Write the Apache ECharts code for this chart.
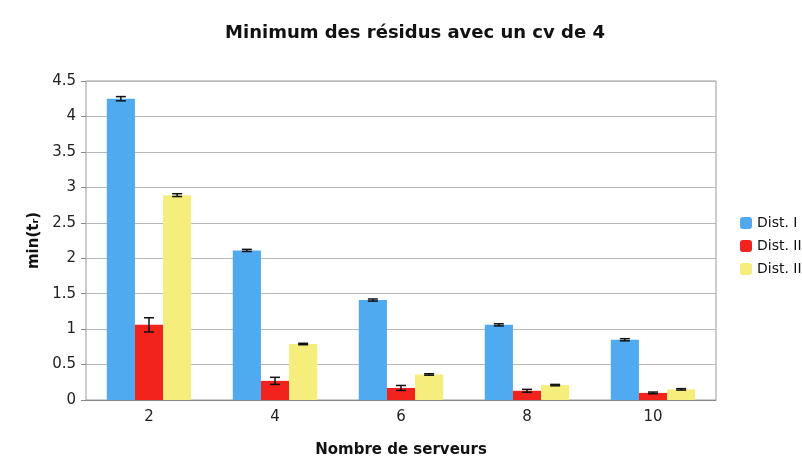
<!DOCTYPE html>
<html>
<head>
<meta charset="utf-8">
<script src="https://cdn.jsdelivr.net/npm/echarts@6/dist/echarts.min.js"></script>
<style>
  html, body { margin: 0; padding: 0; background: #fff; }
  #chart { width: 802px; height: 459px; }
</style>
</head>
<body>
<div id="chart"></div>
<script>
const categories = ['2', '4', '6', '8', '10'];
const seriesNames = ['Dist. I', 'Dist. II', 'Dist. III'];
const distI = [4.25, 2.11, 1.41, 1.06, 0.85];
const distII = [1.06, 0.27, 0.17, 0.13, 0.10];
const distIII = [2.89, 0.79, 0.36, 0.21, 0.15];
const errI = [0.03, 0.015, 0.015, 0.015, 0.015];
const errII = [0.10, 0.05, 0.035, 0.02, 0.012];
const errIII = [0.02, 0.01, 0.01, 0.01, 0.01];

const colors = ['#4faaf0', '#f2221d', '#f6ee7c'];
const values = [distI, distII, distIII];
const errors = [errI, errII, errIII];
const gapRatio = 0.33;

const chart = echarts.init(document.getElementById('chart'));

const errorSeries = (idx) => ({
  type: 'custom',
  z: 10,
  silent: true,
  data: values[idx].map((v, i) => [i, v - errors[idx][i], v + errors[idx][i]]),
  renderItem: (params, api) => {
    const band = api.size([1, 0])[0];
    const group = band * (1 - gapRatio);
    const bw = group / 3;
    const off = -group / 2 + bw * (idx + 0.5);
    const lo = api.coord([api.value(0), api.value(1)]);
    const hi = api.coord([api.value(0), api.value(2)]);
    const x = lo[0] + off;
    const cap = 5;
    const style = { stroke: '#111', lineWidth: 1.5 };
    return {
      type: 'group',
      children: [
        { type: 'line', shape: { x1: x, y1: lo[1], x2: x, y2: hi[1] }, style },
        { type: 'line', shape: { x1: x - cap, y1: lo[1], x2: x + cap, y2: lo[1] }, style },
        { type: 'line', shape: { x1: x - cap, y1: hi[1], x2: x + cap, y2: hi[1] }, style }
      ]
    };
  }
});

const option = {
  backgroundColor: '#fff',
  textStyle: { fontFamily: 'DejaVu Sans' },
  title: {
    text: 'Minimum des résidus avec un cv de 4',
    left: 410,
    textAlign: 'center',
    top: 19,
    textStyle: { fontSize: 18, fontWeight: 'bold', color: '#111' }
  },
  legend: {
    orient: 'vertical',
    left: 735,
    top: 211,
    itemWidth: 12,
    itemHeight: 12,
    itemGap: 9,
    data: seriesNames,
    textStyle: { fontSize: 14, color: '#111' }
  },
  grid: {
    left: 86,
    right: 86,
    top: 81,
    bottom: 59,
    outerBoundsMode: 'none',
    containLabel: false,
    show: true,
    borderColor: '#9a9a9a',
    borderWidth: 1
  },
  xAxis: {
    type: 'category',
    data: categories,
    name: 'Nombre de serveurs',
    nameLocation: 'middle',
    nameGap: 43,
    nameTextStyle: { fontSize: 15, fontWeight: 'bold', color: '#111' },
    axisTick: { show: false },
    axisLine: { lineStyle: { color: '#888' } },
    axisLabel: { fontSize: 15, color: '#222', margin: 10 }
  },
  yAxis: {
    type: 'value',
    min: 0,
    max: 4.5,
    interval: 0.5,
    name: 'min(tᵣ)',
    nameLocation: 'middle',
    nameGap: 44,
    nameTextStyle: { fontSize: 15, fontWeight: 'bold', color: '#111' },
    axisLine: { show: false },
    axisTick: { show: true, length: 5, lineStyle: { color: '#888' } },
    axisLabel: { fontSize: 15, color: '#222', margin: 10 },
    splitLine: { lineStyle: { color: '#b8b8b8' } }
  },
  series: [
    ...seriesNames.map((name, idx) => ({
      name,
      type: 'bar',
      data: values[idx],
      barGap: '0%',
      barCategoryGap: (gapRatio * 100) + '%',
      itemStyle: { color: colors[idx] }
    })),
    errorSeries(0),
    errorSeries(1),
    errorSeries(2)
  ]
};

chart.setOption(option);
window.addEventListener('resize', () => chart.resize());
</script>
</body>
</html>
